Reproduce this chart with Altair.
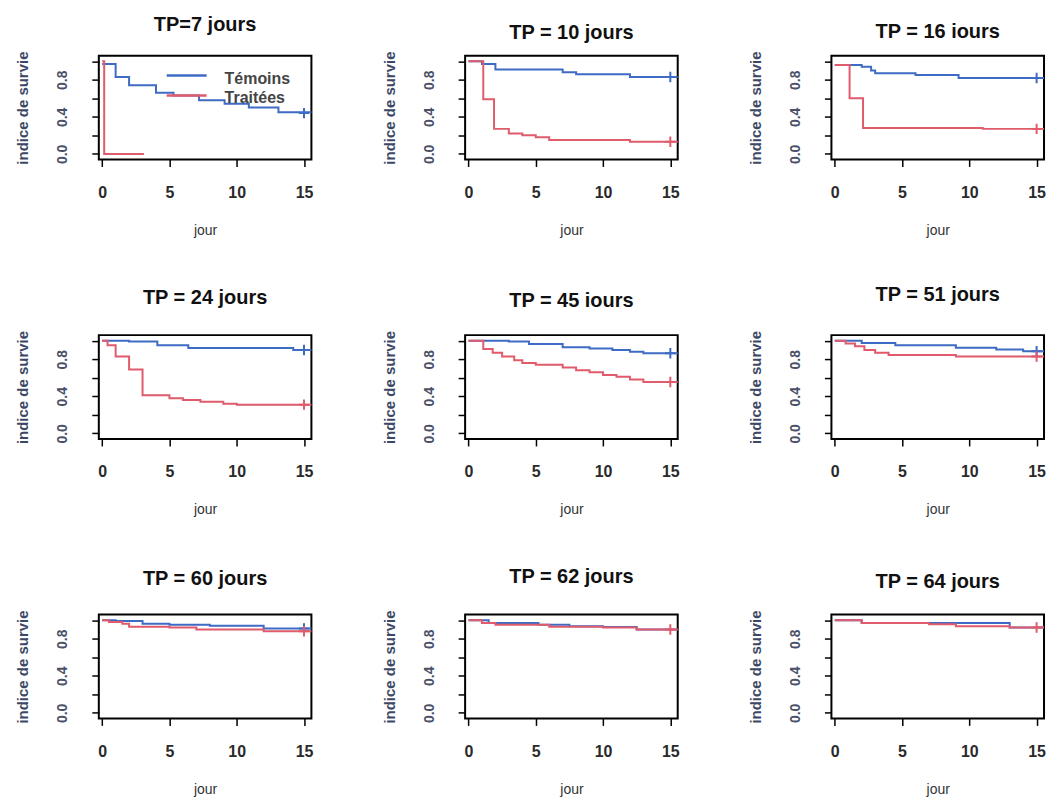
import altair as alt
import pandas as pd

# ---------------- data ----------------
titres = ["TP=7 jours", "TP = 10 jours", "TP = 16 iours",
          "TP = 24 jours", "TP = 45 iours", "TP = 51 jours",
          "TP = 60 jours", "TP = 62 jours", "TP = 64 jours"]

groupes = ["Témoins", "Traitées"]

# Témoins (blue) step curves: times and survival index
tem_t = [
    [0, 1, 2, 4, 5.3, 7.2, 9.1, 10.9, 13.1, 15.6],
    [0, 1, 2, 7, 8, 12, 15.6],
    [0, 2, 2.7, 3, 6, 9.2, 15.6],
    [0, 2, 4.1, 6.4, 14.2, 15.6],
    [0, 3, 4.5, 7, 9, 10.7, 12, 13, 15.6],
    [0, 2, 4.5, 9, 12, 14, 15.6],
    [0, 1, 3, 5, 8, 12, 15.6],
    [0, 1.5, 5.2, 7.5, 10, 12.5, 15.6],
    [0, 2, 13, 15.6],
]
tem_s = [
    [0.97, 0.83, 0.74, 0.66, 0.63, 0.58, 0.54, 0.50, 0.45, 0.44],
    [1.0, 0.97, 0.91, 0.88, 0.86, 0.83, 0.83],
    [0.96, 0.94, 0.90, 0.87, 0.85, 0.82, 0.82],
    [1.0, 0.99, 0.95, 0.92, 0.90, 0.90],
    [1.0, 0.99, 0.965, 0.93, 0.915, 0.90, 0.88, 0.865, 0.865],
    [1.0, 0.975, 0.95, 0.925, 0.905, 0.885, 0.885],
    [1.0, 0.99, 0.96, 0.95, 0.94, 0.91, 0.91],
    [1.0, 0.97, 0.95, 0.935, 0.925, 0.90, 0.90],
    [1.0, 0.97, 0.92, 0.92],
]
# Traitées (red) step curves
tra_t = [
    [0, 0.15, 3.1],
    [0, 1.1, 1.9, 3, 4, 5, 6, 12, 15.6],
    [0, 1.1, 2.1, 11, 15.6],
    [0, 0.4, 1, 2, 3, 5, 6, 7.3, 9, 10, 15.6],
    [0, 1.1, 1.8, 2.5, 3.4, 4, 5, 7, 8, 9, 10, 11, 12, 13, 15.6],
    [0, 0.8, 1.5, 2.2, 3, 4, 9, 15.6],
    [0, 0.5, 1.5, 2, 5, 7, 12, 15.6],
    [0, 1, 2, 6, 10, 12.5, 15.6],
    [0, 2, 7, 9, 13, 15.6],
]
tra_s = [
    [1.0, 0.0, 0.0],
    [1.0, 0.59, 0.27, 0.22, 0.20, 0.18, 0.15, 0.13, 0.13],
    [0.96, 0.60, 0.28, 0.27, 0.27],
    [1.0, 0.95, 0.83, 0.69, 0.41, 0.38, 0.36, 0.34, 0.32, 0.31, 0.31],
    [1.0, 0.91, 0.87, 0.83, 0.79, 0.76, 0.74, 0.71, 0.68, 0.66, 0.63, 0.61, 0.58, 0.555, 0.555],
    [1.0, 0.97, 0.94, 0.90, 0.87, 0.845, 0.83, 0.83],
    [1.0, 0.98, 0.96, 0.93, 0.92, 0.90, 0.88, 0.88],
    [1.0, 0.97, 0.95, 0.93, 0.92, 0.90, 0.90],
    [1.0, 0.97, 0.955, 0.935, 0.92, 0.92],
]
# censoring marks (+) at day 15
cens_jour = 15
cens_tem = [0.44, 0.83, 0.82, 0.90, 0.865, 0.885, 0.91, None, None]
cens_tra = [None, 0.13, 0.27, 0.31, 0.555, 0.83, 0.88, 0.90, 0.92]

# ---------------- style ----------------
BLUE = "#3e6bc4"
RED = "#e05b6b"
W, H = 213, 104
title_offsets = [16, 8, 9, 22, 19, 26, 21, 23, 18]
FONT = "Liberation Sans"
TFONT = "Liberation Sans"

color_scale = alt.Scale(domain=groupes, range=[BLUE, RED])

x_axis = alt.Axis(values=[0, 5, 10, 15], title="jour", domain=False,
                  grid=False, tickColor="black", tickWidth=1.5, tickSize=7,
                  labelFont=FONT, labelFontSize=16, labelFontWeight="bold",
                  labelColor="#2a2a2a", labelPadding=18,
                  titleFont=FONT, titleFontSize=14, titleFontWeight="normal",
                  titleColor="#333333", titlePadding=23)
y_axis = alt.Axis(values=[0, 0.2, 0.4, 0.6, 0.8, 1.0], title="indice de survie",
                  domain=False, grid=False, tickColor="black", tickWidth=1.5,
                  tickSize=7,
                  labelExpr="(abs(datum.value-0)<0.01||abs(datum.value-0.4)<0.01||abs(datum.value-0.8)<0.01) ? format(datum.value,'.1f') : ''",
                  labelAngle=270, labelAlign="center", labelBaseline="bottom",
                  labelFont=FONT, labelFontSize=14, labelFontWeight="bold",
                  labelColor="#4a5068", labelPadding=22,
                  titleFont=FONT, titleFontSize=15, titleFontWeight="bold",
                  titleColor="#3d4866", titlePadding=25)

x_scale = alt.Scale(domain=[-0.25, 15.55], nice=False, zero=False)
y_scale = alt.Scale(domain=[-0.06, 1.06], nice=False, zero=False)


def panel(i):
    rows = []
    for g, ts, ss in [(groupes[0], tem_t[i], tem_s[i]), (groupes[1], tra_t[i], tra_s[i])]:
        for k, (t, s) in enumerate(zip(ts, ss)):
            rows.append({"jour": t, "survie": s, "groupe": g, "ordre": k})
    df = pd.DataFrame(rows)

    cens = []
    if cens_tem[i] is not None:
        cens.append({"jour": cens_jour, "survie": cens_tem[i], "groupe": groupes[0]})
    if cens_tra[i] is not None:
        cens.append({"jour": cens_jour, "survie": cens_tra[i], "groupe": groupes[1]})
    dc = pd.DataFrame(cens)

    base_x = alt.X("jour:Q", scale=x_scale, axis=x_axis)
    base_y = alt.Y("survie:Q", scale=y_scale, axis=y_axis)

    lines = alt.Chart(df).mark_line(interpolate="step-after", strokeWidth=2, clip=True).encode(
        x=base_x, y=base_y,
        color=alt.Color("groupe:N", scale=color_scale, legend=None),
        order="ordre:Q",
    )
    plus = alt.Chart(dc).mark_point(
        shape="M-1,0L1,0M0,-1L0,1", size=110, filled=False, strokeWidth=2, opacity=1
    ).encode(
        x=alt.X("jour:Q", scale=x_scale, axis=x_axis),
        y=alt.Y("survie:Q", scale=y_scale, axis=y_axis),
        color=alt.Color("groupe:N", scale=color_scale, legend=None),
    )
    layers = [lines, plus]

    if i == 0:
        for k, (g, col) in enumerate(zip(groupes, [BLUE, RED])):
            ld = pd.DataFrame({"groupe": [g]})
            rule = alt.Chart(ld).mark_rule(color=col, strokeWidth=2.5).encode(
                x=alt.value(68), x2=alt.value(108), y=alt.value(20 + 20 * k))
            txt = alt.Chart(ld).mark_text(
                align="left", baseline="middle", font=FONT, fontSize=16,
                fontWeight="bold", color="#444444").encode(
                x=alt.value(126), y=alt.value(23 + 19 * k), text="groupe:N")
            layers += [rule, txt]

    return alt.layer(*layers).properties(
        width=W, height=H,
        title=alt.TitleParams(titres[i], font=TFONT, fontSize=20, fontWeight="bold",
                              color="#111111", offset=title_offsets[i], anchor="middle"),
    )


chart = alt.concat(*[panel(i) for i in range(9)], columns=3,
                   spacing={"row": 176, "column": 154}, bounds="flush").properties(
    padding={"left": 15, "top": 13, "right": 5, "bottom": 5},
    background="white",
).configure_view(stroke="black", strokeWidth=2).resolve_scale(color="shared")

chart.save("out.html", embed_options={"renderer": "svg", "actions": False})
